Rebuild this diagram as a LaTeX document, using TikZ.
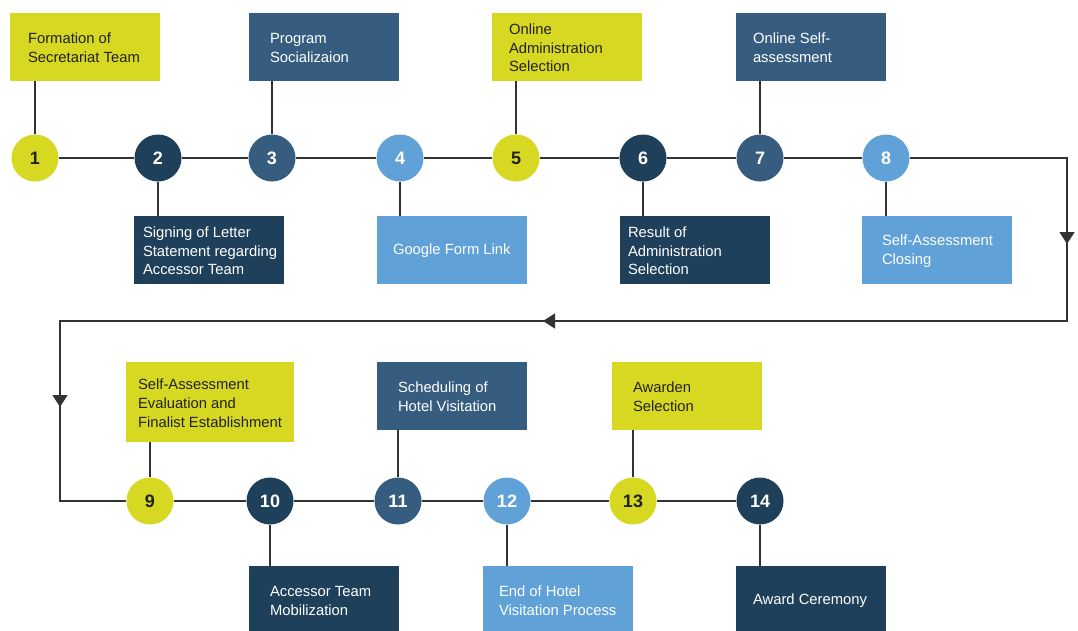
\documentclass[tikz,border=0pt]{standalone}
\usepackage{fontspec}
\setmainfont{Liberation Sans}
\usetikzlibrary{arrows.meta}
\definecolor{lime}{HTML}{D6D822}
\definecolor{navy}{HTML}{1F405A}
\definecolor{midblue}{HTML}{365D80}
\definecolor{sky}{HTML}{60A2D8}
\definecolor{ink}{HTML}{222222}
\definecolor{wirec}{HTML}{333333}
\tikzset{
  num/.style={circle, minimum size=47pt, inner sep=0pt, font=\fontsize{18}{20}\selectfont\bfseries},
  nlime/.style={num, fill=lime, text=ink},
  nnavy/.style={num, fill=navy, text=white},
  nmid/.style={num, fill=midblue, text=white},
  nsky/.style={num, fill=sky, text=white},
  box/.style={rectangle, minimum width=150pt, minimum height=68pt, inner sep=0pt},
  lbl/.style={anchor=west, align=left, inner sep=0pt, font=\fontsize{14.8}{18.7}\selectfont},
  dk/.style={lbl, text=ink},
  wt/.style={lbl, text=white},
  wire/.style={draw=wirec, line width=1.2pt},
  arrowhd/.style={wire, -{Triangle[width=15pt,length=12pt]}, fill=wirec}
}
\begin{document}
\begin{tikzpicture}[x=1pt,y=-1pt]
\useasboundingbox[fill=white] (0,0) rectangle (1078,630);
% row 1 circles
\node[nlime] (c1) at (35,158) {1};
\node[nnavy] (c2) at (158,158) {2};
\node[nmid]  (c3) at (272,158) {3};
\node[nsky]  (c4) at (400,158) {4};
\node[nlime] (c5) at (516,158) {5};
\node[nnavy] (c6) at (643,158) {6};
\node[nmid]  (c7) at (760,158) {7};
\node[nsky]  (c8) at (886,158) {8};
% row 2 circles
\node[nlime] (c9)  at (150,501) {9};
\node[nnavy] (c10) at (270,501) {10};
\node[nmid]  (c11) at (398,501) {11};
\node[nsky]  (c12) at (507,501) {12};
\node[nlime] (c13) at (633,501) {13};
\node[nnavy] (c14) at (760,501) {14};
% boxes row 1
\node[box, fill=lime]    (b1) at (85,47) {};
\node[box, fill=midblue] (b3) at (324,47) {};
\node[box, fill=lime]    (b5) at (567,47) {};
\node[box, fill=midblue] (b7) at (811,47) {};
\node[box, fill=navy]    (b2) at (209,250) {};
\node[box, fill=sky]     (b4) at (452,250) {};
\node[box, fill=navy]    (b6) at (695,250) {};
\node[box, fill=sky]     (b8) at (937,250) {};
% boxes row 2
\node[box, fill=lime, minimum width=168pt, minimum height=80pt] (b9) at (210,402) {};
\node[box, fill=midblue] (b11) at (452,396) {};
\node[box, fill=lime]    (b13) at (687,396) {};
\node[box, fill=navy]    (b10) at (324,600) {};
\node[box, fill=sky]     (b12) at (558,600) {};
\node[box, fill=navy]    (b14) at (811,600) {};
% labels
\node[dk] (t1) at ([xshift=18pt,yshift=-1pt]b1.west) {Formation of\\Secretariat Team};
\node[wt] (t3) at ([xshift=21pt,yshift=-1pt]b3.west) {Program\\Socializaion};
\node[dk] (t5) at ([xshift=17pt,yshift=-1pt]b5.west) {Online\\Administration\\Selection};
\node[wt] (t7) at ([xshift=17pt,yshift=-1pt]b7.west) {Online Self-\\assessment};
\node[wt] (t2) at ([xshift=9pt,yshift=-1pt]b2.west) {Signing of Letter\\Statement regarding\\Accessor Team};
\node[wt] (t4) at ([xshift=16pt,yshift=-1pt]b4.west) {Google Form Link};
\node[wt] (t6) at ([xshift=8pt,yshift=-1pt]b6.west) {Result of\\Administration\\Selection};
\node[wt] (t8) at ([xshift=20pt,yshift=-1pt]b8.west) {Self-Assessment\\Closing};
\node[dk] (t9) at ([xshift=12pt,yshift=-1pt]b9.west) {Self-Assessment\\Evaluation and\\Finalist Establishment};
\node[wt] (t11) at ([xshift=21pt,yshift=-1pt]b11.west) {Scheduling of\\Hotel Visitation};
\node[dk] (t13) at ([xshift=21pt,yshift=-1pt]b13.west) {Awarden\\Selection};
\node[wt] (t10) at ([xshift=21pt,yshift=-1pt]b10.west) {Accessor Team\\Mobilization};
\node[wt] (t12) at ([xshift=16pt,yshift=-1pt]b12.west) {End of Hotel\\Visitation Process};
\node[wt] (t14) at ([xshift=17pt,yshift=-1pt]b14.west) {Award Ceremony};
% timeline connectors
\draw[wire] (c1) -- (c2) -- (c3) -- (c4) -- (c5) -- (c6) -- (c7) -- (c8);
\draw[wire] (c9) -- (c10) -- (c11) -- (c12) -- (c13) -- (c14);
% box connectors
\foreach \i in {1,3,5,7,9,11,13}{
  \draw[wire] (c\i.north) -- (c\i.north |- b\i.south);
}
\foreach \i in {2,4,6,8,10,12,14}{
  \draw[wire] (c\i.south) -- (c\i.south |- b\i.north);
}
% return path
\coordinate (r1) at (1067,158);
\coordinate (r2) at (1067,321);
\coordinate (l1) at (60,321);
\coordinate (l2) at (60,501);
\coordinate (a1) at (1067,244);
\coordinate (a2) at (543,321);
\coordinate (a3) at (60,407);
\draw[wire] (c8.east) -- (r1) -- (r2) -- (l1) -- (l2) -- (c9.west);
\draw[arrowhd] (r1) -- (a1);
\draw[arrowhd] (r2) -- (a2);
\draw[arrowhd] (l1) -- (a3);
\end{tikzpicture}
\end{document}
